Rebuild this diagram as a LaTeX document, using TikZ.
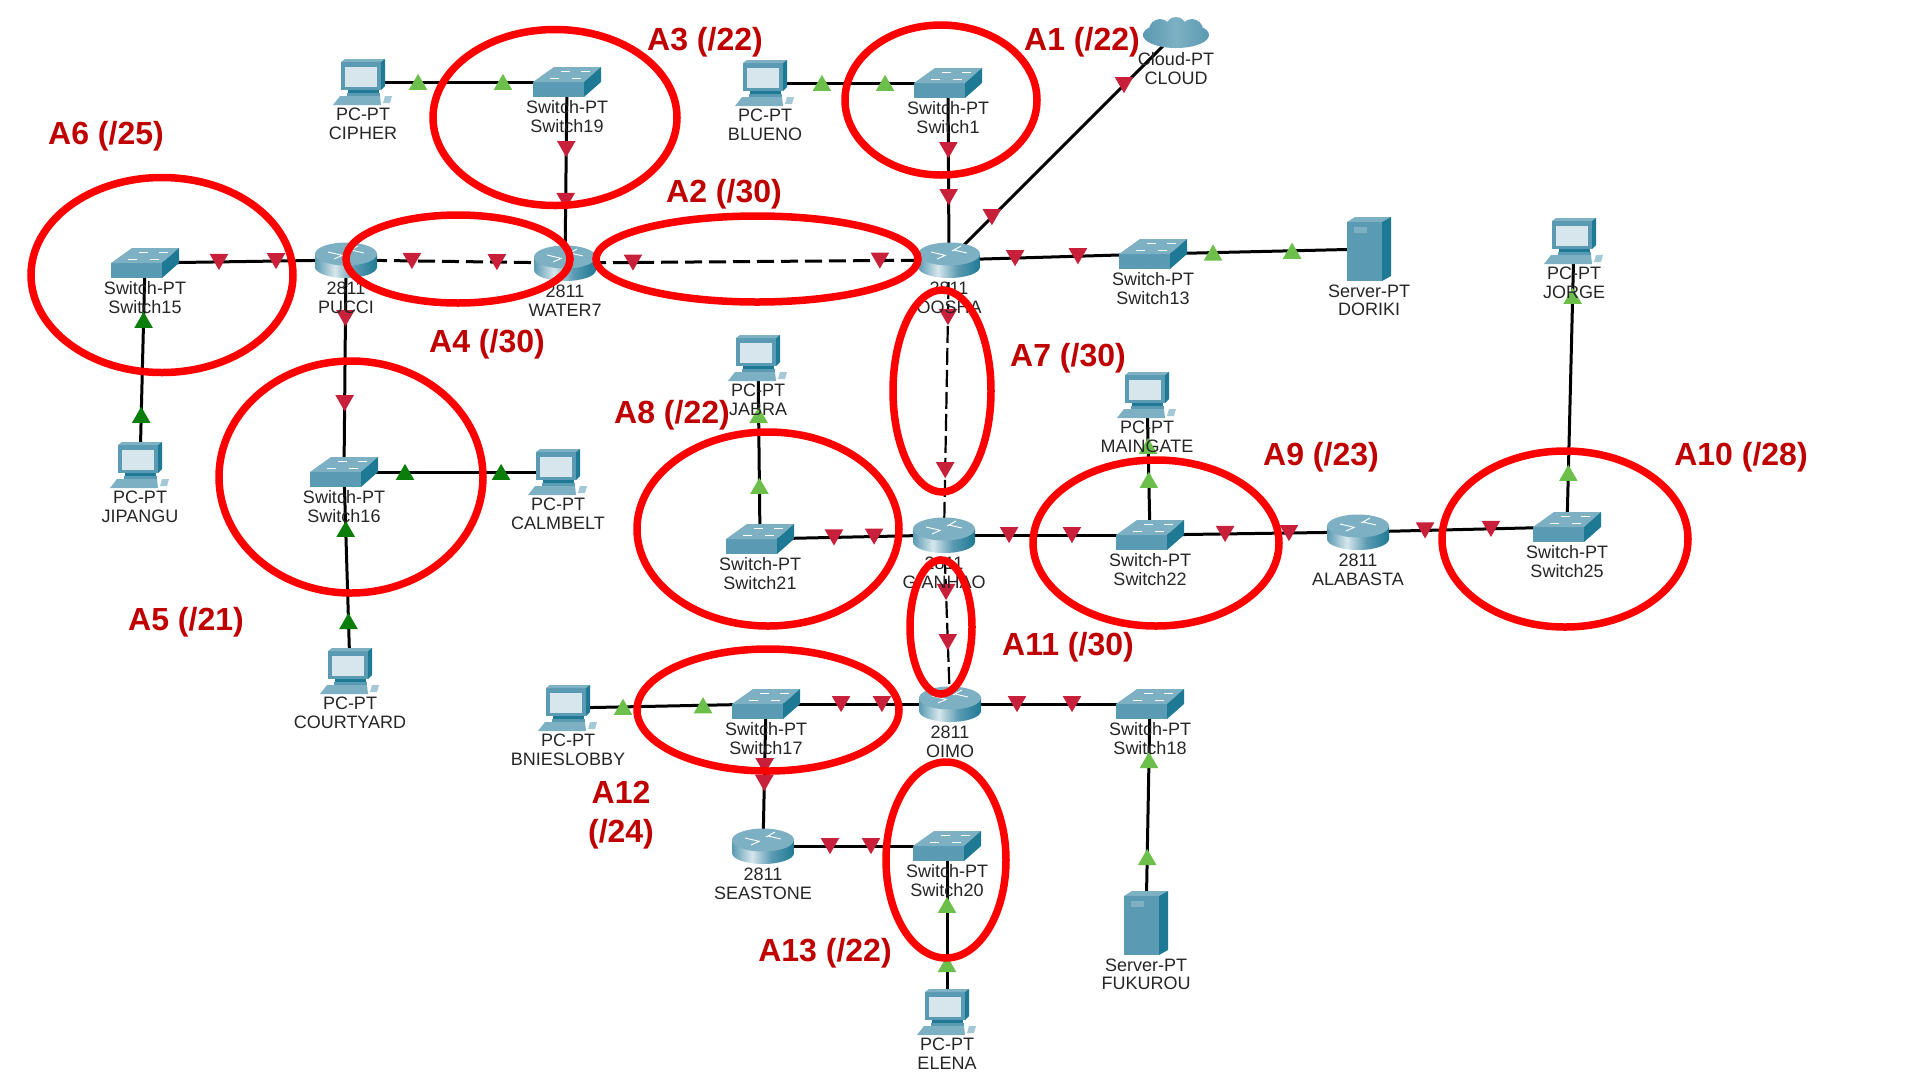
\documentclass[tikz,border=0pt]{standalone}
\usepackage{fontspec}
\setmainfont{Liberation Sans}
\usetikzlibrary{positioning, shapes.geometric}
\pgfdeclarelayer{wires}
\pgfsetlayers{wires,main}
\definecolor{tealfront}{HTML}{5A9AB2}
\definecolor{tealtop}{HTML}{7DB0C3}
\definecolor{tealside}{HTML}{1E7A94}
\definecolor{screenblue}{HTML}{D6E6EC}
\definecolor{pktred}{HTML}{C8203A}
\definecolor{pktgreen}{HTML}{6CBF4B}
\definecolor{pktdark}{HTML}{0A7D0A}
\definecolor{ringred}{HTML}{FF0000}
\definecolor{scorered}{HTML}{C00000}
\pgfdeclarehorizontalshading{routerbody}{100bp}{color(0bp)=(tealfront); color(25bp)=(tealfront); color(41bp)=(screenblue); color(57bp)=(tealfront); color(75bp)=(tealside); color(100bp)=(tealside)}
\pgfdeclarehorizontalshading{cloudbody}{100bp}{color(0bp)=(tealfront); color(25bp)=(tealfront); color(50bp)=(tealtop); color(75bp)=(tealfront); color(100bp)=(tealfront)}
\newcommand{\swicon}{
  \fill[tealfront] (-34,0) rectangle (17,15);
  \fill[tealtop] (-34,0) -- (-13,-15) -- (34,-15) -- (17,0) -- cycle;
  \fill[tealside] (17,0) -- (34,-15) -- (34,0) -- (17,15) -- cycle;
  \draw[white, line width=.8pt] (-17,-4) -- (-8,-4) (-6,-11) -- (3,-11) (5,-4) -- (14,-4) (14,-11) -- (23,-11);
}
\newcommand{\routericon}{
  \shade[shading=routerbody]
    (-31,-6) -- (-31,7) arc[start angle=180, end angle=0, x radius=31, y radius=11] -- (31,-6) -- cycle;
  \fill[tealtop] (0,-6) ellipse[x radius=31, y radius=11.5];
  \draw[white, line width=.9pt] (-18,-8) -- (-5,-5) (5,-10) -- (18,-7) (-12,-1) -- (-3,-5) (3,-9) -- (12,-14);
}
\newcommand{\pcicon}{
  \fill[tealfront] (-22,-20) rectangle (18,8);
  \fill[tealtop] (-22,-20) -- (-18,-23) -- (22,-23) -- (18,-20) -- cycle;
  \fill[tealside] (18,-20) -- (22,-23) -- (22,4) -- (18,8) -- cycle;
  \fill[screenblue] (-18,-15) rectangle (14,5);
  \fill[tealside] (-15,8) rectangle (16,11);
  \fill[tealfront] (-16,11) rectangle (17,14);
  \fill[tealtop] (-30,23) -- (-23,14) -- (17,14) -- (18,23) -- cycle;
  \fill[tealtop!70!white] (20,21) -- (22,14) -- (29,14) -- (27,21) -- cycle;
}
\newcommand{\servericon}{
  \fill[tealfront] (-22,-27) rectangle (13,32);
  \fill[tealtop] (-22,-27) -- (-14,-32) -- (22,-32) -- (13,-27) -- cycle;
  \fill[tealside] (13,-27) -- (22,-32) -- (22,27) -- (13,32) -- cycle;
  \fill[tealtop] (-15,-22) rectangle (-2,-16);
}
\newcommand{\cloudicon}{
  \shade[shading=cloudbody] (0,2) ellipse[x radius=33, y radius=13] (0,-6) circle[radius=10]
    (-16,-3) circle[radius=11] (16,-3) circle[radius=11];
}
\tikzset{
  lbl/.style={font=\fontsize{18}{18.5}\selectfont, text=black!85, align=center, inner sep=0pt},
  device/.style={inner sep=0pt, minimum width=#1},
  sw/.style={device=68pt, minimum height=30pt, label={[lbl, yshift=-3.5pt]below:{#1}},
    path picture={\begin{scope}[shift={(path picture bounding box.center)}]\swicon\end{scope}}},
  router/.style={device=63pt, minimum height=37pt, label={[lbl, yshift=-3.5pt]below:{#1}},
    path picture={\begin{scope}[shift={(path picture bounding box.center)}]\routericon\end{scope}}},
  pc/.style={device=60pt, minimum height=46pt, label={[lbl, yshift=-3pt]below:{#1}},
    path picture={\begin{scope}[shift={(path picture bounding box.center)}]\pcicon\end{scope}}},
  server/.style={device=44pt, minimum height=64pt, label={[lbl, yshift=-3.5pt]below:{#1}},
    path picture={\begin{scope}[shift={(path picture bounding box.center)}]\servericon\end{scope}}},
  cloudbox/.style={device=67pt, minimum height=32pt, label={[lbl, yshift=-3.5pt]below:{#1}},
    path picture={\begin{scope}[shift={(path picture bounding box.center)}]\cloudicon\end{scope}}},
  wire/.style={line width=3pt},
  dashwire/.style={line width=3pt, dash pattern=on 17pt off 7pt},
  thinwire/.style={line width=2.2pt, dash pattern=on 17pt off 5pt},
  tri/.style={regular polygon, regular polygon sides=3, minimum size=21.5pt, inner sep=0pt},
  rd/.style={tri, shape border rotate=180, fill=pktred, yshift=2.6pt},
  gr/.style={tri, fill=pktgreen, yshift=-2.6pt},
  dk/.style={tri, fill=pktdark, yshift=-2.6pt},
  ring/.style n args={2}{ellipse, draw=ringred, line width=7.5pt, inner sep=0pt, minimum width=#1, minimum height=#2},
  score/.style={font=\fontsize{32}{32}\selectfont\bfseries, text=scorered, align=center, inner sep=0pt, yshift=-2pt},
}
\begin{document}
\begin{tikzpicture}[x=1pt, y=-1pt, on grid]
  \useasboundingbox (0,0) rectangle (1920,1080);
  \begin{pgfonlayer}{wires}
    \fill[white] (0,0) rectangle (1920,1080);
  \end{pgfonlayer}
  \node[router={2811\\OOSHA}] (oosha) at (949,260) {};
  \node[sw={Switch-PT\\Switch1}] (sw1) [above left=177pt and 1pt of oosha] {};
  \node[pc={PC-PT\\BLUENO}] (blueno) [left=183pt of sw1] {};
  \node[cloudbox={Cloud-PT\\CLOUD}] (cloud) [above right=227pt and 227pt of oosha] {};
  \node[sw={Switch-PT\\Switch13}] (sw13) [above right=6pt and 204pt of oosha] {};
  \node[server={Server-PT\\DORIKI}] (doriki) [above right=5pt and 216pt of sw13] {};
  \node[router={2811\\WATER7}] (water7) [below left=3pt and 384pt of oosha] {};
  \node[sw={Switch-PT\\Switch19}] (sw19) [above right=181pt and 2pt of water7] {};
  \node[pc={PC-PT\\CIPHER}] (cipher) [left=204pt of sw19] {};
  \node[router={2811\\PUCCI}] (pucci) [above left=3pt and 219pt of water7] {};
  \node[sw={Switch-PT\\Switch15}] (sw15) [below left=3pt and 201pt of pucci] {};
  \node[pc={PC-PT\\JIPANGU}] (jipangu) [below left=202pt and 5pt of sw15] {};
  \node[sw={Switch-PT\\Switch16}] (sw16) [below left=212pt and 2pt of pucci] {};
  \node[pc={PC-PT\\CALMBELT}] (calmbelt) [right=214pt of sw16] {};
  \node[pc={PC-PT\\COURTYARD}] (courtyard) [below right=199pt and 6pt of sw16] {};
  \node[router={2811\\GIANHAO}] (gianhao) [below left=275pt and 5pt of oosha] {};
  \node[sw={Switch-PT\\Switch21}] (sw21) [below left=4pt and 184pt of gianhao] {};
  \node[pc={PC-PT\\JABRA}] (jabra) [above left=181pt and 2pt of sw21] {};
  \node[sw={Switch-PT\\Switch22}] (sw22) [right=206pt of gianhao] {};
  \node[pc={PC-PT\\MAINGATE}] (maingate) [above left=140pt and 3pt of sw22] {};
  \node[router={2811\\ALABASTA}] (alabasta) [above right=3pt and 208pt of sw22] {};
  \node[sw={Switch-PT\\Switch25}] (sw25) [above right=5pt and 209pt of alabasta] {};
  \node[pc={PC-PT\\JORGE}] (jorge) [above right=286pt and 7pt of sw25] {};
  \node[router={2811\\OIMO}] (oimo) [below right=169pt and 6pt of gianhao] {};
  \node[sw={Switch-PT\\Switch17}] (sw17) [left=184pt of oimo] {};
  \node[pc={PC-PT\\BNIESLOBBY}] (bnies) [below left=4pt and 198pt of sw17] {};
  \node[sw={Switch-PT\\Switch18}] (sw18) [right=200pt of oimo] {};
  \node[server={Server-PT\\FUKUROU}] (fukurou) [below left=219pt and 4pt of sw18] {};
  \node[router={2811\\SEASTONE}] (seastone) [below left=142pt and 3pt of sw17] {};
  \node[sw={Switch-PT\\Switch20}] (sw20) [right=184pt of seastone] {};
  \node[pc={PC-PT\\ELENA}] (elena) [below=166pt of sw20] {};
  \begin{pgfonlayer}{wires}
    \path[wire]
      (sw19.center) edge node[rd, pos=.37] {} node[rd, pos=.657] {} (water7.center)
      (cipher.center) edge node[gr, pos=.27] {} node[gr, pos=.686] {} (sw19.center)
      (blueno.center) edge node[gr, pos=.311] {} node[gr, pos=.656] {} (sw1.center)
      (sw1.center) edge node[rd, pos=.379] {} node[rd, pos=.644] {} (oosha.center)
      (oosha.center) edge node[rd, pos=.189] {} node[rd, pos=.771] {} (cloud.center)
      (oosha.center) edge node[rd, pos=.324] {} node[rd, pos=.632] {} (sw13.center)
      (sw13.center) edge node[gr, pos=.278] {} node[gr, pos=.644] {} (doriki.center)
      (sw15.center) edge node[rd, pos=.368] {} node[rd, pos=.652] {} (pucci.center)
      (pucci.center) edge node[rd, pos=.274] {} node[rd, pos=.675] {} (sw16.center)
      (sw15.center) edge node[dk, pos=.282] {} node[dk, pos=.752] {} (jipangu.center)
      (sw16.center) edge node[dk, pos=.285] {} node[dk, pos=.734] {} (calmbelt.center)
      (sw16.center) edge node[dk, pos=.286] {} node[dk, pos=.749] {} (courtyard.center)
      (sw21.center) edge node[gr, pos=.293] {} node[gr, pos=.685] {} (jabra.center)
      (sw21.center) edge node[rd, pos=.402] {} node[rd, pos=.62] {} (gianhao.center)
      (gianhao.center) edge node[rd, pos=.316] {} node[rd, pos=.621] {} (sw22.center)
      (sw22.center) edge node[gr, pos=.393] {} node[gr, pos=.636] {} (maingate.center)
      (sw22.center) edge node[rd, pos=.361] {} node[rd, pos=.668] {} (alabasta.center)
      (alabasta.center) edge node[rd, pos=.321] {} node[rd, pos=.636] {} (sw25.center)
      (sw25.center) edge node[gr, pos=.189] {} node[gr, pos=.808] {} (jorge.center)
      (bnies.center) edge node[gr, pos=.278] {} node[gr, pos=.682] {} (sw17.center)
      (sw17.center) edge node[rd, pos=.408] {} node[rd, pos=.63] {} (oimo.center)
      (oimo.center) edge node[rd, pos=.335] {} node[rd, pos=.61] {} (sw18.center)
      (sw18.center) edge node[gr, pos=.256] {} node[gr, pos=.699] {} (fukurou.center)
      (sw17.center) edge node[rd, pos=.437] {} node[rd, pos=.556] {} (seastone.center)
      (seastone.center) edge node[rd, pos=.364] {} node[rd, pos=.587] {} (sw20.center)
      (sw20.center) edge node[gr, pos=.355] {} node[gr, pos=.711] {} (elena.center);
    \path[dashwire]
      (pucci.center) edge node[rd, pos=.301] {} node[rd, pos=.689] {} (water7.center)
      (water7.center) edge node[rd, pos=.177] {} node[rd, pos=.82] {} (oosha.center);
    \path[thinwire]
      (oosha.center) edge node[rd, pos=.207] {} node[rd, pos=.764] {} (gianhao.center)
      (gianhao.center) edge node[rd, pos=.337] {} node[rd, pos=.633] {} (oimo.center);
  \end{pgfonlayer}
  \node[ring={192pt}{150pt}] (ring1) at (941,100) {};
  \node[ring={322pt}{86pt}] (ring2) at (757,259) {};
  \node[ring={244pt}{176pt}] (ring3) at (555,117.5) {};
  \node[ring={224pt}{88pt}] (ring4) at (458,259) {};
  \node[ring={264pt}{232pt}] (ring5) at (351,477) {};
  \node[ring={262pt}{195pt}] (ring6) at (162,275) {};
  \node[ring={98pt}{202pt}] (ring7) at (942,391) {};
  \node[ring={262pt}{194pt}] (ring8) at (768,529) {};
  \node[ring={246pt}{166pt}] (ring9) at (1156,543) {};
  \node[ring={246pt}{176pt}] (ring10) at (1565,539) {};
  \node[ring={62pt}{134pt}] (ring11) at (941,627) {};
  \node[ring={262pt}{122pt}] (ring12) at (768,710) {};
  \node[ring={120pt}{196pt}] (ring13) at (946,860) {};
  \node[score] (score1) at (1082,40) {A1 (/22)};
  \node[score] (score2) at (724,192) {A2 (/30)};
  \node[score] (score3) at (705,40) {A3 (/22)};
  \node[score] (score4) at (487,342) {A4 (/30)};
  \node[score] (score5) at (186,620) {A5 (/21)};
  \node[score] (score6) at (106,134) {A6 (/25)};
  \node[score] (score7) at (1068,356) {A7 (/30)};
  \node[score] (score8) at (672,413) {A8 (/22)};
  \node[score] (score9) at (1321,455) {A9 (/23)};
  \node[score] (score10) at (1741,455) {A10 (/28)};
  \node[score] (score11) at (1068,645) {A11 (/30)};
  \node[score] (score12) at (621,813) {A12\\[7pt](/24)};
  \node[score] (score13) at (825,951) {A13 (/22)};
\end{tikzpicture}
\end{document}
